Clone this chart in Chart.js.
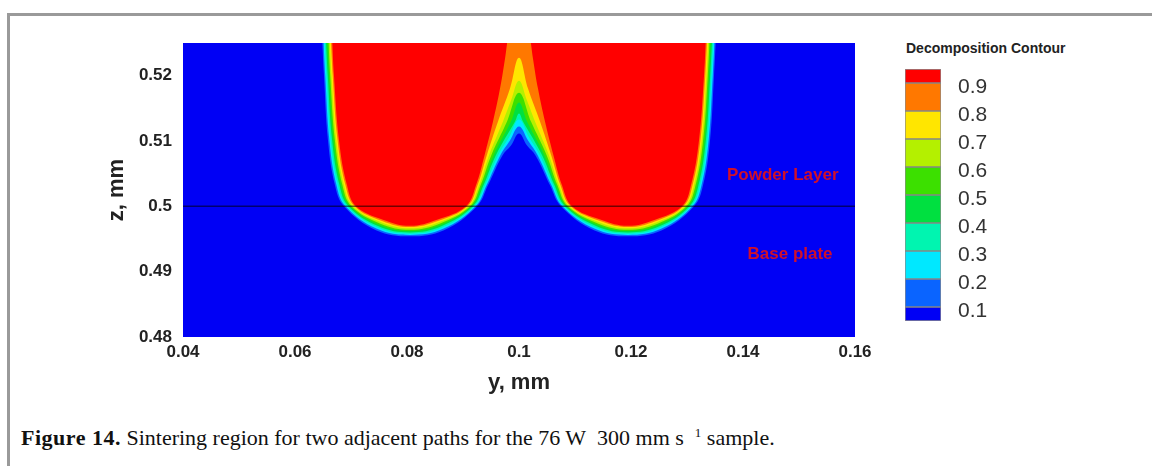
<!DOCTYPE html>
<html>
<head>
<meta charset="utf-8">
<script src="https://cdn.jsdelivr.net/npm/chart.js@4.4.1/dist/chart.umd.min.js"></script>
<style>
  html, body { margin: 0; padding: 0; background: #fff; }
  body { width: 1152px; height: 466px; position: relative; overflow: hidden; font-family: 'Liberation Sans', Arial, sans-serif; }
  #frame { position: absolute; left: 7px; top: 13px; right: 0; bottom: 0; border-top: 3px solid #9a9a9a; border-left: 3px solid #9a9a9a; }
  #plot { position: absolute; left: 0; top: 0; }
  #bar { position: absolute; left: 905px; top: 60px; }
  #barTitle { position: absolute; left: 906px; top: 41px; font: bold 14px 'Liberation Sans', Arial, sans-serif; line-height: 14px; color: #222; white-space: nowrap; }
  #caption { position: absolute; left: 21px; top: 421px; font: 22px 'Liberation Serif', 'Times New Roman', serif; line-height: 24px; color: #111; white-space: nowrap; }
  #caption b { font-weight: bold; letter-spacing: 0.5px; }
  #caption sup { font-size: 13px; }
</style>
</head>
<body>
<div id="frame"></div>
<canvas id="plot" width="880" height="400"></canvas>
<div id="barTitle">Decomposition Contour</div>
<canvas id="bar" width="100" height="270"></canvas>
<div id="caption"><b>Figure 14.</b> Sintering region for two adjacent paths for the 76 W&nbsp; 300 mm s&nbsp; <sup>1</sup> sample.</div>
<script>
// axes
const yTicks = [0.04, 0.06, 0.08, 0.1, 0.12, 0.14, 0.16];
const yTickLabels = ['0.04', '0.06', '0.08', '0.1', '0.12', '0.14', '0.16'];
const zTicks = [0.48, 0.49, 0.5, 0.51, 0.52];
const zTickLabels = ['0.48', '0.49', '0.5', '0.51', '0.52'];

// contour lines [y, z] for each decomposition level
const c90 = [[0.06661,0.526],[0.06696,0.52],[0.06786,0.51008],[0.06929,0.50321],[0.07089,0.5],[0.07571,0.49795],[0.08054,0.49702],[0.08536,0.49795],[0.09054,0.5],[0.09232,0.50321],[0.09384,0.50779],[0.09536,0.51298],[0.09661,0.51802],[0.0975,0.5226],[0.09786,0.5249],[0.09804,0.526],
  [0.10196,0.526],[0.10214,0.5249],[0.1025,0.5226],[0.10339,0.51802],[0.10464,0.51298],[0.10616,0.50779],[0.10768,0.50321],[0.10946,0.5],[0.11464,0.49795],[0.11946,0.49702],[0.12429,0.49795],[0.12911,0.5],[0.13071,0.50321],[0.13214,0.51008],[0.13304,0.52],[0.13339,0.526]];
const c80 = [[0.06638,0.526],[0.06674,0.52],[0.06761,0.51008],[0.06902,0.50321],[0.07063,0.5],[0.07555,0.49775],[0.08054,0.49683],[0.08552,0.49775],[0.09079,0.5],[0.09259,0.50321],[0.09424,0.50779],[0.09625,0.51298],[0.09839,0.51802],[0.1,0.52275],
  [0.10161,0.51802],[0.10375,0.51298],[0.10576,0.50779],[0.10741,0.50321],[0.10921,0.5],[0.11448,0.49775],[0.11946,0.49683],[0.12445,0.49775],[0.12937,0.5],[0.13098,0.50321],[0.13239,0.51008],[0.13326,0.52],[0.13362,0.526]];
const c70 = [[0.06616,0.526],[0.06652,0.52],[0.06737,0.51008],[0.06875,0.50321],[0.07036,0.5],[0.0754,0.49755],[0.08054,0.49663],[0.08567,0.49755],[0.09103,0.5],[0.09286,0.50321],[0.09464,0.50779],[0.09714,0.51298],[0.09857,0.51618],[0.1,0.51924],
  [0.10143,0.51618],[0.10286,0.51298],[0.10536,0.50779],[0.10714,0.50321],[0.10897,0.5],[0.11433,0.49755],[0.11946,0.49663],[0.1246,0.49755],[0.12964,0.5],[0.13125,0.50321],[0.13263,0.51008],[0.13348,0.52],[0.13384,0.526]];
const c60 = [[0.06594,0.526],[0.06629,0.52],[0.06713,0.51008],[0.06848,0.50321],[0.07009,0.5],[0.07525,0.49735],[0.08054,0.49643],[0.08582,0.49735],[0.09127,0.5],[0.09313,0.50321],[0.09504,0.50779],[0.09786,0.51298],[0.1,0.5174],
  [0.10214,0.51298],[0.10496,0.50779],[0.10687,0.50321],[0.10873,0.5],[0.11418,0.49735],[0.11946,0.49643],[0.12475,0.49735],[0.12991,0.5],[0.13152,0.50321],[0.13287,0.51008],[0.13371,0.52],[0.13406,0.526]];
const c50 = [[0.06571,0.526],[0.06607,0.52],[0.06688,0.51008],[0.06821,0.50321],[0.06982,0.5],[0.07509,0.49715],[0.08054,0.49622],[0.08598,0.49715],[0.09152,0.5],[0.09339,0.50321],[0.09545,0.50779],[0.09857,0.51298],[0.1,0.51588],
  [0.10143,0.51298],[0.10455,0.50779],[0.10661,0.50321],[0.10848,0.5],[0.11402,0.49715],[0.11946,0.49622],[0.12491,0.49715],[0.13018,0.5],[0.13179,0.50321],[0.13312,0.51008],[0.13393,0.52],[0.13429,0.526]];
const c40 = [[0.06549,0.526],[0.06585,0.52],[0.06663,0.51008],[0.06795,0.50321],[0.06955,0.5],[0.07493,0.49695],[0.08054,0.49601],[0.08614,0.49695],[0.09177,0.5],[0.09366,0.50321],[0.09585,0.50779],[0.09929,0.51298],[0.1,0.5142],
  [0.10071,0.51298],[0.10415,0.50779],[0.10634,0.50321],[0.10823,0.5],[0.11386,0.49695],[0.11946,0.49601],[0.12507,0.49695],[0.13045,0.5],[0.13205,0.50321],[0.13337,0.51008],[0.13415,0.52],[0.13451,0.526]];
const c30 = [[0.06527,0.526],[0.06563,0.52],[0.06638,0.51008],[0.06768,0.50321],[0.06929,0.5],[0.07478,0.49675],[0.08054,0.49582],[0.0863,0.49675],[0.09201,0.5],[0.09393,0.50321],[0.09625,0.50779],[0.09821,0.51053],[0.1,0.51328],
  [0.10179,0.51053],[0.10375,0.50779],[0.10607,0.50321],[0.10799,0.5],[0.1137,0.49675],[0.11946,0.49582],[0.12522,0.49675],[0.13071,0.5],[0.13232,0.50321],[0.13362,0.51008],[0.13437,0.52],[0.13473,0.526]];
const c20 = [[0.06504,0.526],[0.0654,0.52],[0.06614,0.51008],[0.06741,0.50321],[0.06902,0.5],[0.07463,0.49655],[0.08054,0.49562],[0.08645,0.49655],[0.09225,0.5],[0.0942,0.50321],[0.09665,0.50779],[0.09839,0.51008],[0.1,0.51221],
  [0.10161,0.51008],[0.10335,0.50779],[0.1058,0.50321],[0.10775,0.5],[0.11355,0.49655],[0.11946,0.49562],[0.12537,0.49655],[0.13098,0.5],[0.13259,0.50321],[0.13386,0.51008],[0.1346,0.52],[0.13496,0.526]];
const c10 = [[0.06482,0.526],[0.06518,0.52],[0.06589,0.51008],[0.06714,0.50321],[0.06875,0.5],[0.07446,0.49635],[0.08054,0.49542],[0.08661,0.49635],[0.0925,0.5],[0.09446,0.50321],[0.09705,0.50779],[0.09857,0.50931],[0.1,0.51115],
  [0.10143,0.50931],[0.10295,0.50779],[0.10554,0.50321],[0.1075,0.5],[0.11339,0.49635],[0.11946,0.49542],[0.12554,0.49635],[0.13125,0.5],[0.13286,0.50321],[0.13411,0.51008],[0.13482,0.52],[0.13518,0.526]];

const contours = [c90, c80, c70, c60, c50, c40, c30, c20, c10];
const levelColors = ['#ff0000', '#ff7800', '#ffe600', '#b4f000', '#3ce000', '#00e040', '#00f5b0', '#00e8ff', '#0a64ff'];
const belowColor = '#0000f5';
const interfaceZ = 0.5;

// colour bar
const colorTicks = [0.1, 0.2, 0.3, 0.4, 0.5, 0.6, 0.7, 0.8, 0.9];
const colorTickLabels = ['0.1', '0.2', '0.3', '0.4', '0.5', '0.6', '0.7', '0.8', '0.9'];
const bandEdges = [0.05, 0.1, 0.2, 0.3, 0.4, 0.5, 0.6, 0.7, 0.8, 0.9, 0.95];
const bandColors = ['#0000f5', '#0a64ff', '#00e8ff', '#00f5b0', '#00e040', '#3ce000', '#b4f000', '#ffe600', '#ff7800', '#ff0000'];

const layerLabels = ['Powder Layer', 'Base plate'];
const layerLabelPos = [[0.1471, 0.5047], [0.1484, 0.4927]];

const FONT = "'Liberation Sans', Arial, sans-serif";
Chart.defaults.font.family = FONT;
Chart.defaults.color = '#222';

const plotDecor = {
  id: 'plotDecor',
  beforeDatasetsDraw(chart) {
    const {ctx, chartArea: a} = chart;
    ctx.save();
    ctx.fillStyle = belowColor;
    ctx.fillRect(a.left, a.top, a.right - a.left, a.bottom - a.top);
    ctx.restore();
  },
  afterDatasetsDraw(chart) {
    const {ctx, scales} = chart;
    ctx.save();
    ctx.font = 'bold 17px ' + FONT;
    ctx.fillStyle = '#d0102a';
    ctx.textAlign = 'center';
    ctx.textBaseline = 'middle';
    layerLabels.forEach((t, i) => {
      ctx.fillText(t, scales.x.getPixelForValue(layerLabelPos[i][0]), scales.y.getPixelForValue(layerLabelPos[i][1]));
    });
    ctx.restore();
  }
};

const datasets = [{
  data: [{x: yTicks[0], y: interfaceZ}, {x: yTicks[yTicks.length - 1], y: interfaceZ}],
  borderColor: 'rgba(0,0,0,0.55)',
  borderWidth: 1.5,
  pointRadius: 0,
  fill: false
}];
contours.forEach((c, i) => {
  datasets.push({
    data: c.map(p => ({x: p[0], y: p[1]})),
    backgroundColor: levelColors[i],
    borderColor: 'rgba(0,0,0,0)',
    borderWidth: 0,
    pointRadius: 0,
    fill: 'end',
    tension: 0.4
  });
});

new Chart(document.getElementById('plot'), {
  type: 'line',
  data: {datasets},
  options: {
    responsive: false,
    animation: false,
    events: [],
    layout: {padding: {left: 0, top: 43, right: 25, bottom: 0}},
    plugins: {legend: {display: false}, tooltip: {enabled: false}},
    scales: {
      x: {
        type: 'linear', min: 0.04, max: 0.16,
        grid: {display: false, drawTicks: false}, border: {display: false},
        afterBuildTicks: s => { s.ticks = yTicks.map(v => ({value: v})); },
        afterFit: s => { s.height = 63; s.paddingLeft = 0; s.paddingRight = 0; },
        ticks: {font: {size: 17, weight: 'bold'}, padding: 5, maxRotation: 0, autoSkip: false,
          callback: (v, i) => yTickLabels[i]},
        title: {display: true, text: 'y, mm', font: {size: 22, weight: 'bold'}, padding: {top: 0, bottom: 4}}
      },
      y: {
        type: 'linear', min: 0.48, max: 0.525,
        grid: {display: false, drawTicks: false}, border: {display: false},
        afterBuildTicks: s => { s.ticks = zTicks.map(v => ({value: v})); },
        afterFit: s => { s.width = 183; s.paddingTop = 0; s.paddingBottom = 0; },
        ticks: {font: {size: 17, weight: 'bold'}, padding: 11, autoSkip: false,
          callback: (v, i) => zTickLabels[i]},
        title: {display: true, text: 'z, mm', font: {size: 22, weight: 'bold'}, padding: {top: 104, bottom: 0}}
      }
    }
  },
  plugins: [plotDecor]
});

new Chart(document.getElementById('bar'), {
  type: 'bar',
  data: {
    labels: [''],
    datasets: bandColors.map((c, i) => ({
      data: [[bandEdges[i], bandEdges[i + 1]]],
      backgroundColor: c,
      borderColor: 'rgba(60,60,60,0.6)',
      borderWidth: 1,
      borderSkipped: false,
      grouped: false,
      barPercentage: 1,
      categoryPercentage: 1
    }))
  },
  options: {
    responsive: false,
    animation: false,
    events: [],
    layout: {padding: {left: 0, right: 0, top: 9, bottom: 9}},
    plugins: {legend: {display: false}, tooltip: {enabled: false}},
    scales: {
      x: {display: false},
      y: {
        min: 0.05, max: 0.95, position: 'right',
        grid: {display: false, drawTicks: false}, border: {display: false},
        afterBuildTicks: s => { s.ticks = colorTicks.map(v => ({value: v})); },
        afterFit: s => { s.width = 64; s.paddingTop = 0; s.paddingBottom = 0; },
        ticks: {font: {size: 21}, color: '#333', padding: 17, labelOffset: 4,
          callback: (v, i) => colorTickLabels[i]}
      }
    }
  }
});
</script>
</body>
</html>
